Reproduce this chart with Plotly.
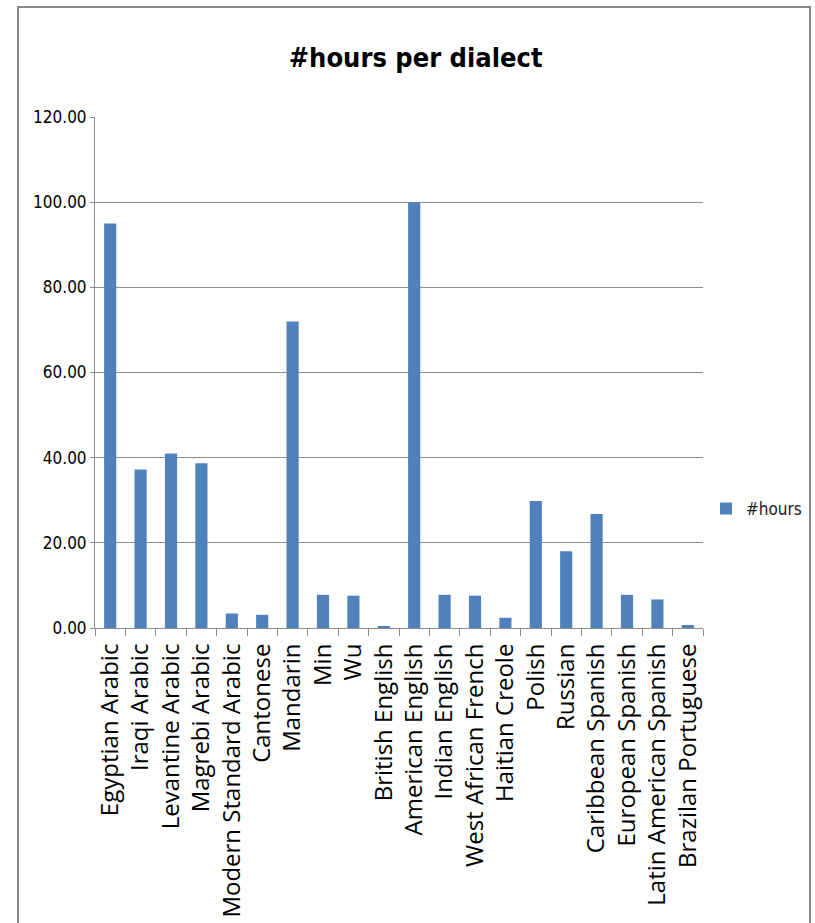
import plotly.graph_objects as go

# Hours of recorded speech per dialect
dialects = [
    "Egyptian Arabic", "Iraqi Arabic", "Levantine Arabic", "Magrebi Arabic",
    "Modern Standard Arabic", "Cantonese", "Mandarin", "Min", "Wu",
    "British English", "American English", "Indian English",
    "West African French", "Haitian Creole", "Polish", "Russian",
    "Caribbean Spanish", "European Spanish", "Latin American Spanish",
    "Brazilan Portuguese",
]
hours = [95.0, 37.2, 41.0, 38.7, 3.4, 3.1, 72.0, 7.8, 7.6, 0.4,
         100.0, 7.8, 7.6, 2.4, 29.8, 18.0, 26.8, 7.8, 6.7, 0.7]

y_ticks = [0, 20, 40, 60, 80, 100, 120]

NARROW = "DejaVu Sans Condensed, Liberation Sans Narrow, sans-serif"
LABEL = "Open Sans, DejaVu Sans, sans-serif"
GRID = "#8c8c8c"

fig = go.Figure()
fig.add_trace(go.Bar(
    x=dialects,
    y=hours,
    name="#hours",
    marker=dict(color="#4F81BD", line=dict(width=0)),
))

W, H = 815, 923
L, R, T, B = 95, 112, 117, 295
pw = W - L - R
ph = H - T - B


def px_x(x):
    return (x - L) / pw


def px_y(y):
    return (H - B - y) / ph


fig.update_layout(
    width=W,
    height=H,
    margin=dict(l=L, r=R, t=T, b=B, autoexpand=False),
    paper_bgcolor="white",
    plot_bgcolor="white",
    bargap=0.6,
    title=dict(
        text="<b>#hours per dialect</b>",
        font=dict(family=NARROW, size=27, color="black"),
        x=0.51, xanchor="center",
        y=1 - 58 / H, yanchor="middle", yref="container",
    ),
    showlegend=True,
    legend=dict(
        x=px_x(706), xanchor="left",
        y=px_y(509), yanchor="middle",
        font=dict(family=NARROW, size=17, color="#222"),
        itemwidth=30,
        bgcolor="rgba(0,0,0,0)",
    ),
    xaxis=dict(
        type="category",
        tickangle=-90,
        tickfont=dict(family=LABEL, size=24, color="black"),
        ticklabelstandoff=5,
        showline=True, linecolor=GRID, linewidth=1,
        ticks="outside", ticklen=7, tickcolor=GRID,
        tickson="boundaries",
        showgrid=False,
    ),
    yaxis=dict(
        range=[0, 120],
        tickvals=y_ticks,
        tickformat=".2f",
        tickfont=dict(family=NARROW, size=17, color="black"),
        showline=True, linecolor=GRID, linewidth=1,
        ticks="outside", ticklen=4, tickcolor=GRID,
        showgrid=True, gridcolor=GRID, gridwidth=1,
        zeroline=False,
    ),
    shapes=[dict(
        type="rect", xref="paper", yref="paper",
        x0=px_x(18), x1=px_x(810), y0=px_y(7), y1=px_y(940),
        line=dict(color="#888888", width=2),
        fillcolor="rgba(0,0,0,0)",
    )],
)

fig.write_html("out.html")
